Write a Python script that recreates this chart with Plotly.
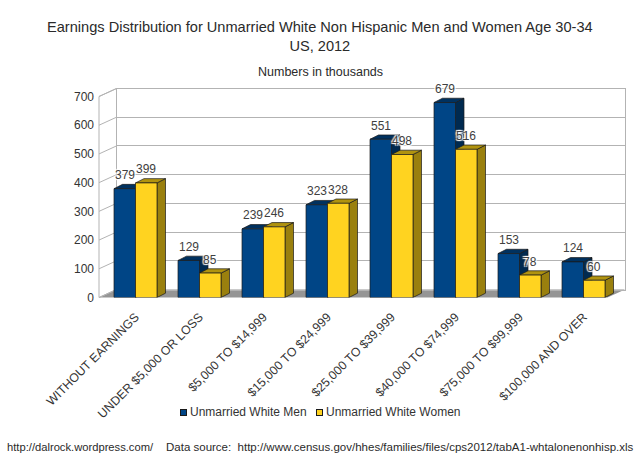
import plotly.graph_objects as go

# ---------------- data ----------------
categories = ["WITHOUT EARNINGS", "UNDER $5,000 OR LOSS", "$5,000 TO $14,999",
              "$15,000 TO $24,999", "$25,000 TO $39,999", "$40,000 TO $74,999",
              "$75,000 TO $99,999", "$100,000 AND OVER"]
men = [379, 129, 239, 323, 551, 679, 153, 124]
women = [399, 85, 246, 328, 498, 516, 78, 60]
y_ticks = [0, 100, 200, 300, 400, 500, 600, 700]
series_names = ["Unmarried White Men", "Unmarried White Women"]

# ---------------- geometry (pixels of the 640x460 page) ----------------
W, H = 640, 460
def PX(p): return p / W
def PY(p): return 1 - p / H

FX0, FX1 = 103.5, 615.5          # front plane x extent of categories
WALL_FX = 99.0                   # front edge of left wall
FY0, FY700 = 297.5, 96.5         # front plane y of 0 and 700
BX0, BX1 = 116.5, 625.0          # back wall x extent
BY0, BY700 = 289.5, 88.5         # back wall y of 0 and 700
YMAX = 700
unit_px = (FY0 - FY700) / YMAX   # px per value unit
cat_px = (FX1 - FX0) / len(categories)

BAR_W = 0.336                    # bar width in category units
DDX = 8.5 / cat_px               # depth offset (x) of a bar, category units
DDY = 4.3 / unit_px              # depth offset (y) of a bar, value units
LABEL_SHIFT = 13.5               # px above the front top of a bar

BLUE, BLUE_TOP, BLUE_SIDE = "#004586", "#00315f", "#002a50"
YEL, YEL_TOP, YEL_SIDE = "#ffd320", "#b0930f", "#9a800e"
EDGE = "#1a1a1a"
GRID = "#b3b3b3"
TXT = "#333333"
FONT = "Liberation Sans, Arial, sans-serif"

idx = list(range(len(categories)))

fig = go.Figure()

# dummy trace so the back-wall subplot (x/y) is drawn
fig.add_trace(go.Scatter(x=[0], y=[0], mode="markers", marker=dict(opacity=0),
                         showlegend=False, hoverinfo="skip", xaxis="x", yaxis="y"))

fig.add_trace(go.Bar(x=idx, y=men, name=series_names[0], xaxis="x2", yaxis="y2",
                     marker=dict(color=BLUE, line=dict(color=EDGE, width=0.7)),
                     showlegend=False))
fig.add_trace(go.Bar(x=idx, y=women, name=series_names[1], xaxis="x2", yaxis="y2",
                     marker=dict(color=YEL, line=dict(color=EDGE, width=0.7)),
                     showlegend=False))

shadow = "1px 1px 1px white, -1px -1px 1px white, 1px -1px 1px white, -1px 1px 1px white"
annotations = []
for i in idx:
    for v, dx in ((men[i], -BAR_W / 2), (women[i], BAR_W / 2)):
        annotations.append(dict(x=i + dx, y=v, yshift=LABEL_SHIFT, xref="x2", yref="y2",
                                text=str(v), showarrow=False, xanchor="center",
                                yanchor="middle",
                                font=dict(size=12, color="#404040", family=FONT,
                                          shadow=shadow)))

shapes = []
# floor
shapes.append(dict(type="path", xref="paper", yref="paper", layer="below",
                   path=f"M{PX(WALL_FX)},{PY(FY0)} L{PX(BX1 - (BX0 - WALL_FX))},{PY(FY0)} "
                        f"L{PX(BX1)},{PY(BY0)} L{PX(BX0)},{PY(BY0)} Z",
                   fillcolor="#959595", line=dict(width=0)))
# left wall
shapes.append(dict(type="path", xref="paper", yref="paper", layer="below",
                   path=f"M{PX(WALL_FX)},{PY(FY0)} L{PX(WALL_FX)},{PY(FY700)} "
                        f"L{PX(BX0)},{PY(BY700)} L{PX(BX0)},{PY(BY0)} Z",
                   fillcolor="white", line=dict(color=GRID, width=1)))
for t in y_ticks:
    shapes.append(dict(type="line", xref="paper", yref="paper", layer="below",
                       x0=PX(WALL_FX), y0=PY(FY0 - t * unit_px),
                       x1=PX(BX0), y1=PY(BY0 - t * unit_px),
                       line=dict(color=GRID, width=1)))

def bar_faces(xl, xr, v, top, side):
    out = []
    out.append(dict(type="path", xref="x2", yref="y2", layer="below",
                    path=f"M{xr},0 L{xr},{v} L{xr + DDX},{v + DDY} L{xr + DDX},{DDY} Z",
                    fillcolor=side, line=dict(color=EDGE, width=0.7)))
    out.append(dict(type="path", xref="x2", yref="y2", layer="below",
                    path=f"M{xl},{v} L{xr},{v} L{xr + DDX},{v + DDY} L{xl + DDX},{v + DDY} Z",
                    fillcolor=top, line=dict(color=EDGE, width=0.7)))
    return out

for i in idx:
    shapes += bar_faces(i - BAR_W, i, men[i], BLUE_TOP, BLUE_SIDE)
    shapes += bar_faces(i, i + BAR_W, women[i], YEL_TOP, YEL_SIDE)

# legend (swatch + label)
legend_items = [(series_names[0], BLUE, 183.5), (series_names[1], YEL, 319.5)]
for name, col, cx in legend_items:
    annotations.append(dict(x=PX(cx), y=PY(412), xref="paper", yref="paper", text=" ",
                            showarrow=False, xanchor="center", yanchor="middle",
                            width=5, height=5, bgcolor=col, bordercolor=EDGE, borderwidth=1,
                            borderpad=0, font=dict(size=4)))
    annotations.append(dict(x=PX(cx + 4.5), y=PY(412), xref="paper", yref="paper", text=name,
                            showarrow=False, xanchor="left", yanchor="middle",
                            font=dict(size=12, color=TXT, family=FONT)))

annotations += [
    dict(text="Earnings Distribution for Unmarried White Non Hispanic Men and Women Age 30-34<br>US, 2012",
         x=0.5, y=PY(36.5), xref="paper", yref="paper", showarrow=False,
         xanchor="center", yanchor="middle", font=dict(size=14.6, color="#2a2a2a", family=FONT)),
    dict(text="Numbers in thousands", x=PX(320.5), y=PY(72), xref="paper", yref="paper",
         showarrow=False, xanchor="center", yanchor="middle",
         font=dict(size=12.5, color="#2a2a2a", family=FONT)),
    dict(text="http://dalrock.wordpress.com/", x=PX(5), y=PY(447), xref="paper", yref="paper",
         showarrow=False, xanchor="left", yanchor="middle",
         font=dict(size=11.2, color="#2a2a2a", family=FONT)),
    dict(text="Data source:  http://www.census.gov/hhes/families/files/cps2012/tabA1-whtalonenonhisp.xls",
         x=PX(636), y=PY(447), xref="paper", yref="paper",
         showarrow=False, xanchor="right", yanchor="middle",
         font=dict(size=11.5, color="#2a2a2a", family=FONT)),
]

fig.update_layout(
    template="none",
    width=W, height=H, margin=dict(l=0, r=0, t=0, b=0, pad=0, autoexpand=False),
    paper_bgcolor="white", plot_bgcolor="rgba(0,0,0,0)",
    barmode="group", bargap=0.328, bargroupgap=0,
    font=dict(family=FONT, color=TXT, size=12),
    showlegend=False,
    # back wall
    xaxis=dict(domain=[PX(BX0), PX(BX1)], range=[0, 1], showgrid=False, zeroline=False,
               showticklabels=False, ticks="", showline=True, mirror=True, linecolor=GRID,
               linewidth=1, anchor="y", fixedrange=True, automargin=False),
    yaxis=dict(domain=[PY(BY0), PY(BY700)], range=[0, YMAX], tickvals=y_ticks,
               showgrid=True, gridcolor=GRID, gridwidth=1, zeroline=False, ticks="",
               showticklabels=False, showline=True, mirror=True, linecolor=GRID,
               anchor="x", fixedrange=True, automargin=False),
    # front plane (bars)
    xaxis2=dict(domain=[PX(FX0), PX(FX1)], range=[-0.5, len(categories) - 0.5],
                tickvals=idx, ticktext=categories, tickangle=-45, showgrid=False,
                zeroline=False, showline=False, ticks="", anchor="y2",
                tickfont=dict(size=12.3, color=TXT, family=FONT), ticklabelstandoff=9,
                fixedrange=True, automargin=False),
    yaxis2=dict(domain=[PY(FY0), PY(FY700)], range=[0, YMAX], tickvals=y_ticks,
                showgrid=False, zeroline=False, showline=False, ticks="", anchor="free",
                position=PX(WALL_FX), tickfont=dict(size=12, color=TXT, family=FONT),
                ticklabelstandoff=5, fixedrange=True, automargin=False),
    shapes=shapes, annotations=annotations,
)

fig.write_html("out.html")
